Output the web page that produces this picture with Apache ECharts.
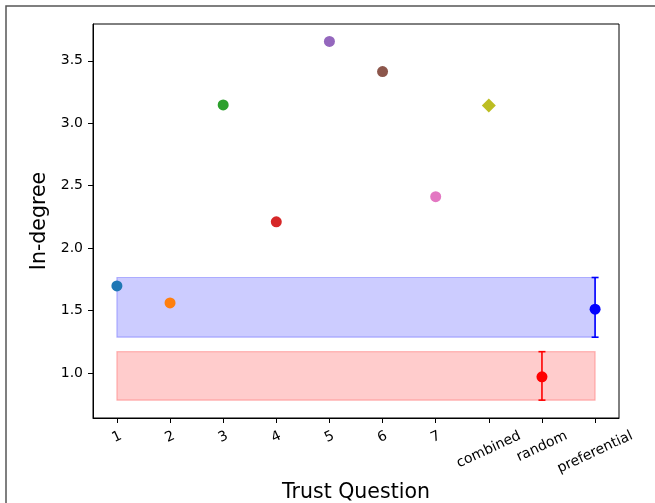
<!DOCTYPE html>
<html><head><meta charset="utf-8">
<script src="https://cdn.jsdelivr.net/npm/echarts@6/dist/echarts.min.js"></script>
<style>html,body{margin:0;padding:0;background:#fff}#chart{width:655px;height:503px}</style>
</head><body><div id="chart"></div>
<script>
// ---- data ----
const questions = ['1', '2', '3', '4', '5', '6', '7', 'combined', 'random', 'preferential'];
const questionPositions = [1, 2, 3, 4, 5, 6, 7, 8, 9, 10];
const trustValues = [1.698, 1.561, 3.147, 2.211, 3.655, 3.414, 2.412];
const trustColors = ['#1f77b4', '#ff7f0e', '#2ca02c', '#d62728', '#9467bd', '#8c564b', '#e377c2'];
const combinedValue = 3.142;
const randomMean = 0.970;
const randomRange = [0.783, 1.171];
const prefMean = 1.511;
const prefRange = [1.287, 1.765];
const yTicks = [1.0, 1.5, 2.0, 2.5, 3.0, 3.5];

// ---- styling helpers ----
const FONT = '"DejaVu Sans", sans-serif';
const ROT = 25, th = ROT * Math.PI / 180;
const ctx = document.createElement('canvas').getContext('2d');
ctx.font = '14px "DejaVu Sans"';
const rich = {};
questions.forEach((q, i) => {
  const w = ctx.measureText(q).width;
  const d = 9.7 + (w * Math.sin(th) + 16.3 * Math.cos(th)) / 2;
  rich['t' + i] = {
    fontSize: 14, fontFamily: FONT, color: '#000',
    padding: [2 * d * Math.cos(th), 2 * d * Math.sin(th), 0, 0]
  };
});

const first = questionPositions[0], last = questionPositions[questionPositions.length - 1];
const bandData = [
  [first, last, randomRange[0], randomRange[1], 0],
  [first, last, prefRange[0], prefRange[1], 1]
];
const bandFill = ['rgba(255,0,0,0.2)', 'rgba(0,0,255,0.2)'];
const bandStroke = ['rgba(255,0,0,0.25)', 'rgba(0,0,255,0.25)'];
const errData = [
  [questionPositions[8], randomMean, randomRange[0], randomRange[1], 0],
  [questionPositions[9], prefMean, prefRange[0], prefRange[1], 1]
];
const errColor = ['#ff0000', '#0000ff'];

const chart = echarts.init(document.getElementById('chart'), null, {renderer: 'canvas'});
chart.setOption({
  animation: false,
  backgroundColor: '#fff',
  graphic: [{
    type: 'rect', silent: true, z: 0,
    shape: {x: 6, y: 6, width: 900, height: 900},
    style: {fill: 'none', stroke: '#555', lineWidth: 1.5}
  }],
  grid: {
    left: 93, top: 24, right: 36, bottom: 85,
    show: true, borderColor: '#000', borderWidth: 1,
    outerBoundsMode: 'none'
  },
  xAxis: {
    type: 'value', min: 0.55, max: 10.45,
    axisLine: {show: true, onZero: false, lineStyle: {color: '#000', width: 1}},
    axisTick: {show: true, customValues: questionPositions, length: 5, lineStyle: {color: '#000', width: 1}},
    axisLabel: {
      customValues: questionPositions, rotate: ROT, align: 'center', verticalAlign: 'middle',
      margin: 0, interval: 0,
      formatter: (v) => { const i = Math.round(v) - 1; return '{t' + i + '|' + questions[i] + '}'; },
      rich: rich
    },
    splitLine: {show: false},
    name: 'Trust Question', nameLocation: 'middle', nameGap: 60,
    nameTextStyle: {fontSize: 20.5, color: '#000', fontFamily: FONT}
  },
  yAxis: {
    type: 'value', min: 0.64, max: 3.795,
    axisLine: {show: true, lineStyle: {color: '#000', width: 1}},
    axisTick: {show: true, customValues: yTicks, length: 5, lineStyle: {color: '#000', width: 1}},
    axisLabel: {
      customValues: yTicks, margin: 10, fontSize: 14, color: '#000', fontFamily: FONT,
      formatter: (v) => v.toFixed(1)
    },
    splitLine: {show: false},
    name: 'In-degree', nameLocation: 'middle', nameGap: 39,
    nameTextStyle: {fontSize: 20.5, color: '#000', fontFamily: FONT}
  },
  series: [
    {
      type: 'custom', z: 1, silent: true,
      renderItem: (params, api) => {
        const p1 = api.coord([api.value(0), api.value(2)]);
        const p2 = api.coord([api.value(1), api.value(3)]);
        const k = api.value(4);
        return {
          type: 'rect',
          shape: {x: p1[0], y: p2[1], width: p2[0] - p1[0], height: p1[1] - p2[1]},
          style: {fill: bandFill[k], stroke: bandStroke[k], lineWidth: 1.2}
        };
      },
      encode: {x: [0, 1], y: [2, 3]},
      data: bandData
    },
    {
      type: 'custom', z: 3, silent: true,
      renderItem: (params, api) => {
        const x = api.value(0);
        const lo = api.coord([x, api.value(2)]);
        const hi = api.coord([x, api.value(3)]);
        const c = errColor[api.value(4)];
        const st = {stroke: c, lineWidth: 1.6};
        return {
          type: 'group',
          children: [
            {type: 'line', shape: {x1: lo[0], y1: lo[1], x2: hi[0], y2: hi[1]}, style: st},
            {type: 'line', shape: {x1: lo[0] - 3.5, y1: lo[1], x2: lo[0] + 3.5, y2: lo[1]}, style: st},
            {type: 'line', shape: {x1: hi[0] - 3.5, y1: hi[1], x2: hi[0] + 3.5, y2: hi[1]}, style: st}
          ]
        };
      },
      encode: {x: 0, y: [2, 3]},
      data: errData
    },
    {
      type: 'scatter', z: 4, symbol: 'circle', symbolSize: 11,
      itemStyle: {opacity: 1},
      data: trustValues.map((v, i) => ({value: [questionPositions[i], v], itemStyle: {color: trustColors[i], opacity: 1}}))
    },
    {
      type: 'scatter', z: 4, symbol: 'diamond', symbolSize: 14,
      itemStyle: {color: '#bcbd22', opacity: 1},
      data: [[questionPositions[7], combinedValue]]
    },
    {
      type: 'scatter', z: 4, symbol: 'circle', symbolSize: 11,
      itemStyle: {opacity: 1},
      data: [
        {value: [questionPositions[8], randomMean], itemStyle: {color: errColor[0], opacity: 1}},
        {value: [questionPositions[9], prefMean], itemStyle: {color: errColor[1], opacity: 1}}
      ]
    }
  ]
});
</script>
</body></html>
